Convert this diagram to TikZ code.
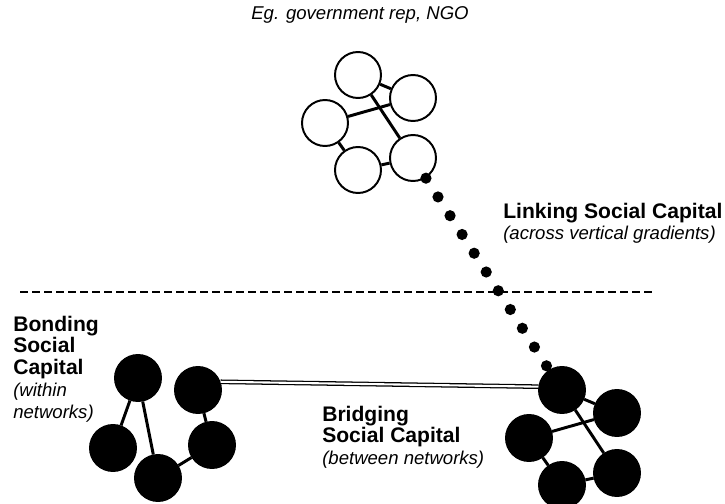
\documentclass[tikz,border=0pt]{standalone}
\usepackage{fontspec}
\setmainfont{Liberation Sans}
\newcommand\notefont{\fontsize{13.2}{15.5}\selectfont\mdseries\itshape}
\tikzset{
  hollowmember/.style={circle, draw=black, fill=white, line width=1.4pt, minimum size=1.15cm, inner sep=0pt},
  solidmember/.style={circle, draw=black, fill=black, line width=1.4pt, minimum size=1.15cm, inner sep=0pt},
  tie/.style={draw=black, line width=2.1pt},
  linkdots/.style={draw=black, line width=0.28cm, line cap=round, dash pattern=on 0pt off 0.5575cm},
  bridgeline/.style={draw=black, double=white, double distance=1.5pt, line width=0.9pt},
  divider/.style={draw=black, line width=2pt, dash pattern=on 0.21cm off 0.09cm},
  capitallabel/.style={font=\fontsize{15}{15.5}\selectfont\bfseries, align=left, inner sep=0pt, anchor=north west},
  notelabel/.style={font=\notefont, inner sep=0pt},
}
\begin{document}
\begin{tikzpicture}
\useasboundingbox (0,0) rectangle (18.125,12.575);
\node[notelabel, anchor=base] (example) at (9.000,12.085) {Eg. government rep, NGO};
\node[hollowmember] (tA) at (8.950,10.700) {};
\node[hollowmember] (tB) at (10.325,10.125) {};
\node[hollowmember] (tC) at (8.125,9.500) {};
\node[hollowmember] (tD) at (8.950,8.325) {};
\node[hollowmember] (tE) at (10.325,8.625) {};
\draw[tie] (tA) -- (tB);
\draw[tie] (tA) -- (tE);
\draw[tie] (tC) -- (tB);
\draw[tie] (tC) -- (tD);
\draw[tie] (tD) -- (tE);
\node[solidmember] (rA) at (14.050,2.825) {};
\node[solidmember] (rB) at (15.425,2.250) {};
\node[solidmember] (rC) at (13.225,1.625) {};
\node[solidmember] (rD) at (14.050,0.450) {};
\node[solidmember] (rE) at (15.425,0.750) {};
\draw[tie] (rA) -- (rB);
\draw[tie] (rA) -- (rE);
\draw[tie] (rC) -- (rB);
\draw[tie] (rC) -- (rD);
\draw[tie] (rD) -- (rE);
\node[solidmember] (lA) at (3.450,3.125) {};
\node[solidmember] (lB) at (4.950,2.825) {};
\node[solidmember] (lC) at (2.825,1.375) {};
\node[solidmember] (lD) at (3.950,0.625) {};
\node[solidmember] (lE) at (5.300,1.450) {};
\draw[tie] (lA) -- (lC);
\draw[tie] (lA) -- (lD);
\draw[tie] (lB) -- (lE);
\draw[tie] (lE) -- (lD);
\draw[divider] (0.500,5.275) -- (16.375,5.275);
\draw[linkdots] (tE) -- (rA);
\draw[bridgeline] (lB.20) -- (rA.172);
\node[capitallabel] (linking) at (12.575,7.5125) {Linking Social Capital\\\notefont (across vertical gradients)};
\node[capitallabel] (bonding) at (0.325,4.6875) {Bonding\\Social\\Capital\\\notefont (within\\\notefont networks)};
\node[capitallabel] (bridging) at (8.050,2.4375) {Bridging\\Social Capital\\\notefont (between networks)};
\end{tikzpicture}
\end{document}
